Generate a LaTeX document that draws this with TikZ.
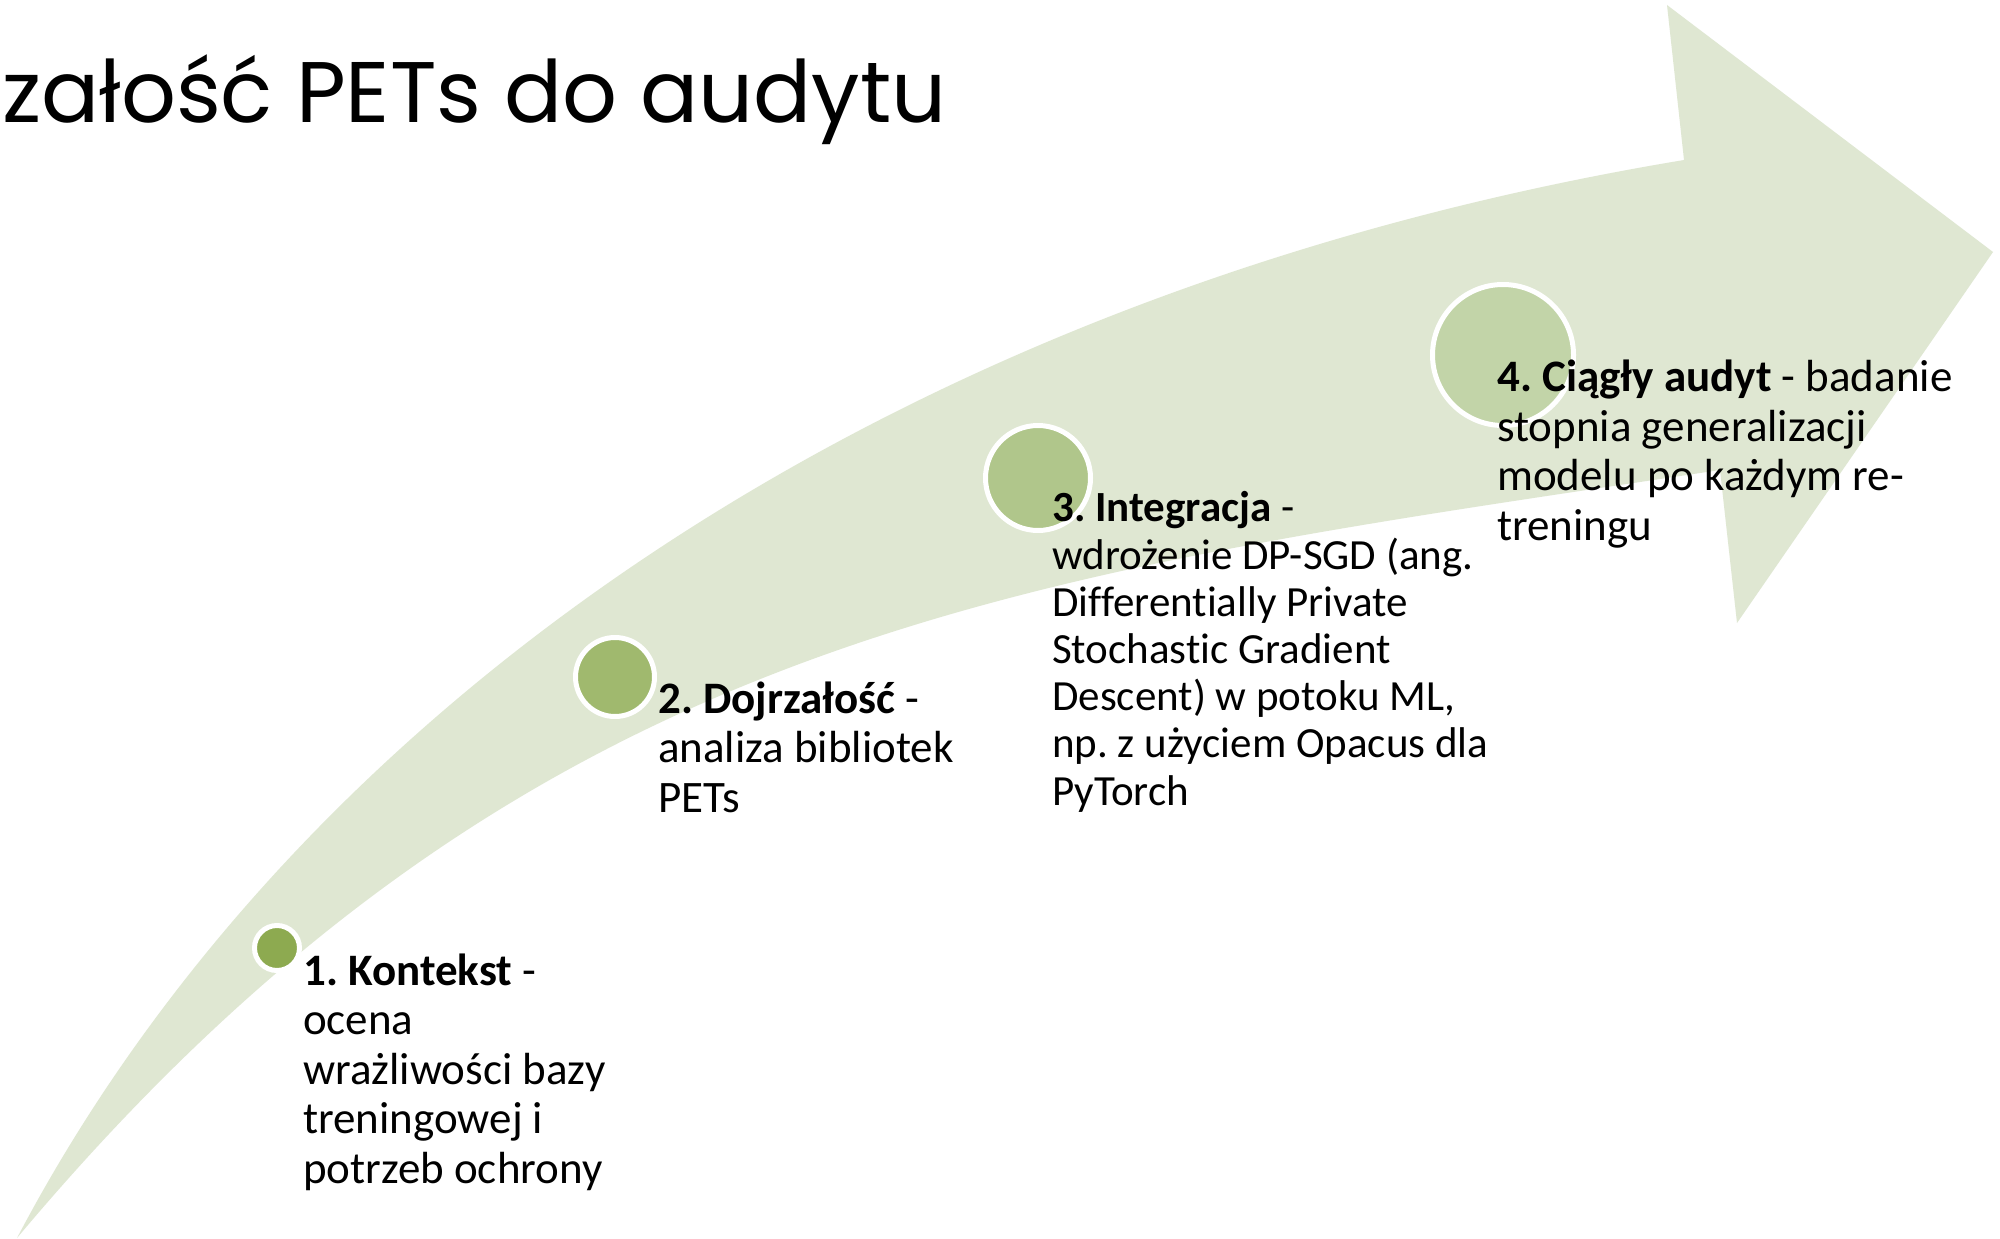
\documentclass[tikz,border=0pt]{standalone}
\usepackage{fontspec}
\setmainfont{Carlito}[Ligatures={NoCommon}]
\newfontfamily\titlefont{Poppins}
\frenchspacing
\definecolor{bandgreen}{HTML}{DFE7D2}
\definecolor{dotA}{HTML}{8DAA50}
\definecolor{dotB}{HTML}{A0B96E}
\definecolor{dotC}{HTML}{B0C68B}
\definecolor{dotD}{HTML}{C2D4A8}
\begin{document}
\begin{tikzpicture}[x=1pt,y=-1pt,
  dot/.style={circle, inner sep=0pt, draw=white, line width=5pt},
  % multi-line labels are placed by the baseline of their last line
  txt/.style={anchor=base west, align=left, inner sep=0pt, text=black,
    font=\fontsize{45}{49.5}\selectfont},
  txtsmall/.style={txt, font=\fontsize{43}{47.2}\selectfont},
  ttl/.style={anchor=base west, inner sep=0pt, text=black,
    font=\titlefont\fontsize{86}{100}\selectfont}]
  % canvas
  \fill[white] (0,0) rectangle (2000,1239);
  \useasboundingbox (0,0) rectangle (2000,1239);

  % curved arrow band
  \coordinate (tail) at (17,1238);
  \coordinate (notchup) at (1684,160);
  \coordinate (headtop) at (1667,5);
  \coordinate (tip) at (1993,252);
  \coordinate (headbot) at (1737,623);
  \coordinate (notchlow) at (1720,470);
  \fill[bandgreen] (tail) .. controls (300,700) and (900,290) .. (notchup)
    -- (headtop) -- (tip) -- (headbot) -- (notchlow)
    .. controls (1025,575) and (531,625) .. (tail) -- cycle;

  % title
  \node[ttl] (title) at (2,122) {załość PETs do audytu};

  % step markers
  \node[dot, fill=dotA, minimum size=45pt] (d1) at (277,948) {};
  \node[dot, fill=dotB, minimum size=79pt] (d2) at (615,677) {};
  \node[dot, fill=dotC, minimum size=105pt] (d3) at (1038,478) {};
  \node[dot, fill=dotD, minimum size=141pt] (d4) at (1503,355) {};

  % step descriptions
  \node[txt] (s1) at (303,1183) {\textbf{1. Kontekst} -\\ocena\\wrażliwości bazy\\treningowej i\\potrzeb ochrony};
  \node[txt] (s2) at (658,812) {\textbf{2. Dojrzałość} -\\analiza bibliotek\\PETs};
  \node[txtsmall] (s3) at (1052,805) {\textbf{3. Integracja} -\\wdrożenie DP-SGD (ang.\\Differentially Private\\Stochastic Gradient\\Descent) w potoku ML,\\np. z użyciem Opacus dla\\PyTorch};
  \node[txt] (s4) at (1497,540) {\textbf{4. Ciągły audyt} - badanie\\stopnia generalizacji\\modelu po każdym re-\\treningu};
\end{tikzpicture}
\end{document}
